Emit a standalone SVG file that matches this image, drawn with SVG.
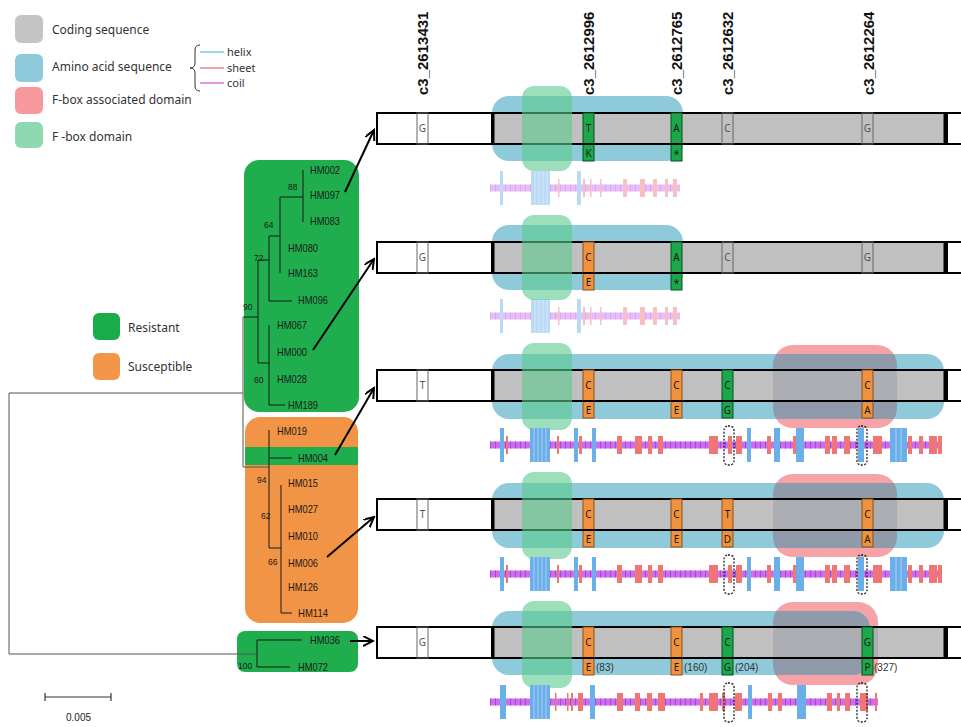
<svg xmlns="http://www.w3.org/2000/svg" xmlns:xlink="http://www.w3.org/1999/xlink" width="961" height="727" viewBox="0 0 961 727">
<style>
.lg{font-family:"Noto Sans","Liberation Sans",sans-serif;font-size:12px;fill:#333}
.sm{font-family:"Noto Sans","Liberation Sans",sans-serif;font-size:11px;fill:#333}
.hd{font-family:"Liberation Sans",Arial,sans-serif;font-size:15px;font-weight:bold;fill:#111}
.tl{font-family:"Liberation Sans",Arial,sans-serif;font-size:11px;fill:#1a1a1a}
.bs{font-family:"Liberation Sans",Arial,sans-serif;font-size:8.5px;fill:#1a1a1a}
.tr{stroke:#1a1a1a;stroke-width:1;fill:none}
.wb{fill:#fff;stroke:#000;stroke-width:2}
.gb{fill:#c0c0c0;stroke:#000;stroke-width:2}
.amino{fill:#8fcadb}
.fba{fill:#f5a3a6}
.ov{fill:#8f9bab}
.fbox{fill:#5cc98c;opacity:0.6}
.sn{fill:none;stroke:#666;stroke-width:1}
.snt{font-family:"Noto Sans","Liberation Sans",sans-serif;font-size:10px;fill:#555;text-anchor:middle}
.rg{fill:#1aa84a;stroke:#0b4d20;stroke-width:1}
.so{fill:#f0913d;stroke:#8a4f1c;stroke-width:1}
.lt{font-family:"Noto Sans","Liberation Sans",sans-serif;font-size:10px;fill:#1a1a1a;text-anchor:middle}
.pn{font-family:"Liberation Sans",Arial,sans-serif;font-size:10px;fill:#333}
.coil{stroke:#cc6cf2;stroke-width:7}
.coild{stroke:#a44bd0;stroke-width:7;stroke-dasharray:1 4}
.sh{fill:#f07575}
.hx{fill:#6aaeea}
.dt{fill:none;stroke:#222;stroke-width:1.3;stroke-dasharray:2 1.5}
.ar{stroke:#000;stroke-width:2;fill:none}
</style>
<defs>
<marker id="ah" markerUnits="userSpaceOnUse" markerWidth="12" markerHeight="12" refX="10" refY="5" orient="auto">
<path d="M0,0 L10,5 L0,10" fill="none" stroke="#000" stroke-width="2"/>
</marker>
<clipPath id="cr3"><rect x="773" y="345" width="124" height="83" rx="20"/></clipPath>
<clipPath id="cr4"><rect x="773" y="474" width="124" height="83" rx="20"/></clipPath>
<clipPath id="cr5"><rect x="773" y="602" width="105" height="83" rx="20"/></clipPath>
<g id="strip12">
<line class="coil" x1="490" y1="0" x2="680" y2="0"/>
<line class="coild" x1="490" y1="0" x2="680" y2="0"/>
<rect class="hx" x="500" y="-17" width="3" height="34"/>
<rect class="hx" x="531" y="-17" width="19" height="34"/>
<rect class="hx" x="577" y="-17" width="4" height="34"/>
<rect class="sh" x="558" y="-9" width="1.5" height="18"/>
<rect class="sh" x="583" y="-9" width="2" height="18"/>
<rect class="sh" x="590" y="-9" width="1.5" height="18"/>
<rect class="sh" x="600" y="-9" width="1.5" height="18"/>
<rect class="sh" x="623" y="-9" width="4" height="18"/>
<rect class="sh" x="640" y="-9" width="5" height="18"/>
<rect class="sh" x="653" y="-9" width="4" height="18"/>
<rect class="sh" x="665" y="-9" width="3" height="18"/>
<rect class="sh" x="673" y="-9" width="4" height="18"/>
<g stroke="#fff" stroke-width="0.7" opacity="0.6"><line x1="535" y1="-17" x2="535" y2="17"/><line x1="539" y1="-17" x2="539" y2="17"/><line x1="543" y1="-17" x2="543" y2="17"/><line x1="547" y1="-17" x2="547" y2="17"/></g>
</g>
<g id="strip34">
<line class="coil" x1="490" y1="0" x2="942" y2="0"/>
<line class="coild" x1="490" y1="0" x2="942" y2="0"/>
<rect class="hx" x="500" y="-17" width="4" height="34"/>
<rect class="hx" x="530" y="-17" width="20" height="34"/>
<rect class="hx" x="574" y="-17" width="4" height="34"/>
<rect class="hx" x="592" y="-17" width="4" height="34"/>
<rect class="hx" x="747" y="-17" width="4" height="34"/>
<rect class="hx" x="774" y="-17" width="6" height="34"/>
<rect class="hx" x="796" y="-17" width="8" height="34"/>
<rect class="hx" x="858" y="-17" width="6" height="34"/>
<rect class="hx" x="890" y="-17" width="17" height="34"/>
<rect class="sh" x="506" y="-9" width="2" height="18"/>
<rect class="sh" x="557" y="-9" width="2" height="18"/>
<rect class="sh" x="579" y="-9" width="3" height="18"/>
<rect class="sh" x="617" y="-9" width="5" height="18"/>
<rect class="sh" x="635" y="-9" width="7" height="18"/>
<rect class="sh" x="648" y="-9" width="4" height="18"/>
<rect class="sh" x="658" y="-9" width="5" height="18"/>
<rect class="sh" x="709" y="-9" width="9" height="18"/>
<rect class="sh" x="728" y="-9" width="4" height="18"/>
<rect class="sh" x="736" y="-9" width="6" height="18"/>
<rect class="sh" x="767" y="-9" width="4" height="18"/>
<rect class="sh" x="793" y="-9" width="3" height="18"/>
<rect class="sh" x="825" y="-9" width="5" height="18"/>
<rect class="sh" x="832" y="-9" width="5" height="18"/>
<rect class="sh" x="844" y="-9" width="6" height="18"/>
<rect class="sh" x="873" y="-9" width="9" height="18"/>
<rect class="sh" x="908" y="-9" width="4" height="18"/>
<rect class="sh" x="919" y="-9" width="4" height="18"/>
<rect class="sh" x="929" y="-9" width="8" height="18"/>
<rect class="sh" x="938" y="-9" width="4" height="18"/>
<g stroke="#fff" stroke-width="0.7" opacity="0.6"><line x1="534" y1="-17" x2="534" y2="17"/><line x1="538" y1="-17" x2="538" y2="17"/><line x1="542" y1="-17" x2="542" y2="17"/><line x1="546" y1="-17" x2="546" y2="17"/><line x1="896" y1="-17" x2="896" y2="17"/><line x1="901" y1="-17" x2="901" y2="17"/></g>
<rect class="dt" x="724" y="-19" width="10" height="39" rx="4"/>
<rect class="dt" x="857" y="-19" width="10" height="39" rx="4"/>
</g>
</defs>
<rect width="961" height="727" fill="#fff"/>

<g id="legend">
<rect x="15" y="15" width="28" height="28" rx="6" fill="#c4c4c4"/>
<rect x="15" y="54" width="28" height="28" rx="6" fill="#8fcadb"/>
<rect x="15" y="87" width="28" height="27" rx="6" fill="#f7999c"/>
<rect x="15" y="122" width="28" height="26" rx="6" fill="#8fd9b2"/>
<text class="lg" x="52" y="34">Coding sequence</text>
<text class="lg" x="52" y="71">Amino acid sequence</text>
<text class="lg" x="52" y="104">F-box associated domain</text>
<text class="lg" x="52" y="141">F -box domain</text>
<path d="M200,45 Q195,45 195,50 L195,63 Q195,68 190,68 Q195,68 195,73 L195,86 Q195,91 200,91" fill="none" stroke="#333" stroke-width="1"/>
<line x1="200" y1="52" x2="224" y2="52" stroke="#5bb8e0" stroke-width="1.2"/>
<line x1="200" y1="68" x2="224" y2="68" stroke="#e86060" stroke-width="1.2"/>
<line x1="200" y1="83" x2="224" y2="83" stroke="#d050d0" stroke-width="1.2"/>
<text class="sm" x="227" y="56">helix</text>
<text class="sm" x="227" y="72">sheet</text>
<text class="sm" x="227" y="87">coil</text>
</g>

<g id="legend-phenotype">
<rect x="93" y="313" width="27" height="27" rx="6" fill="#1aab4b"/>
<rect x="93" y="353" width="27" height="27" rx="6" fill="#f4964a"/>
<text class="lg" x="128" y="332">Resistant</text>
<text class="lg" x="128" y="371">Susceptible</text>
</g>

<g id="headers">
<text class="hd" transform="translate(428,95) rotate(-90)">c3_2613431</text>
<text class="hd" transform="translate(594,95) rotate(-90)">c3_2612996</text>
<text class="hd" transform="translate(682,95) rotate(-90)">c3_2612765</text>
<text class="hd" transform="translate(733,95) rotate(-90)">c3_2612632</text>
<text class="hd" transform="translate(874,95) rotate(-90)">c3_2612264</text>
</g>

<g id="tree">
<rect x="244" y="160" width="115" height="252" rx="15" fill="#20ad4e"/>
<rect x="245" y="417" width="113" height="206" rx="15" fill="#f29445"/>
<rect x="245" y="447" width="113" height="18" fill="#20ad4e"/>
<rect x="237" y="631" width="121" height="41" rx="8" fill="#20ad4e"/>
<g class="tr">
<path d="M303,170 V222 M280,197 H303"/>
<path d="M280,197 V273 M269,236 H280"/>
<path d="M269,236 V301 H292"/>
<path d="M258,260 H269 M258,260 V363 H269"/>
<path d="M269,325 V405 H285"/>
<path d="M243,317 H258"/>
<path d="M243,317 V467 H269" stroke="#555"/>
<path d="M269,430 V548 H281 M269,458 H292"/>
<path d="M281,485 V613 H292"/>
<path d="M9,393 H243 M9,393 V654 H257" stroke="#555"/>
<path d="M257,640 V667 M257,640 H302 M257,667 H290"/>
</g>
<text class="tl" x="310" y="174" textLength="30" lengthAdjust="spacingAndGlyphs">HM002</text>
<text class="tl" x="310" y="199" textLength="30" lengthAdjust="spacingAndGlyphs">HM097</text>
<text class="tl" x="310" y="225" textLength="30" lengthAdjust="spacingAndGlyphs">HM083</text>
<text class="tl" x="288" y="252" textLength="30" lengthAdjust="spacingAndGlyphs">HM080</text>
<text class="tl" x="288" y="277" textLength="30" lengthAdjust="spacingAndGlyphs">HM163</text>
<text class="tl" x="298" y="304" textLength="30" lengthAdjust="spacingAndGlyphs">HM096</text>
<text class="tl" x="277" y="329" textLength="30" lengthAdjust="spacingAndGlyphs">HM067</text>
<text class="tl" x="277" y="356" textLength="30" lengthAdjust="spacingAndGlyphs">HM000</text>
<text class="tl" x="277" y="383" textLength="30" lengthAdjust="spacingAndGlyphs">HM028</text>
<text class="tl" x="288" y="409" textLength="30" lengthAdjust="spacingAndGlyphs">HM189</text>
<text class="tl" x="277" y="435" textLength="30" lengthAdjust="spacingAndGlyphs">HM019</text>
<text class="tl" x="298" y="462" textLength="30" lengthAdjust="spacingAndGlyphs">HM004</text>
<text class="tl" x="288" y="487" textLength="30" lengthAdjust="spacingAndGlyphs">HM015</text>
<text class="tl" x="288" y="513" textLength="30" lengthAdjust="spacingAndGlyphs">HM027</text>
<text class="tl" x="288" y="540" textLength="30" lengthAdjust="spacingAndGlyphs">HM010</text>
<text class="tl" x="288" y="567" textLength="30" lengthAdjust="spacingAndGlyphs">HM006</text>
<text class="tl" x="288" y="591" textLength="30" lengthAdjust="spacingAndGlyphs">HM126</text>
<text class="tl" x="298" y="617" textLength="30" lengthAdjust="spacingAndGlyphs">HM114</text>
<text class="tl" x="310" y="644" textLength="30" lengthAdjust="spacingAndGlyphs">HM036</text>
<text class="tl" x="298" y="671" textLength="30" lengthAdjust="spacingAndGlyphs">HM072</text>
<text class="bs" x="288" y="190">88</text>
<text class="bs" x="264" y="228">64</text>
<text class="bs" x="254" y="261">72</text>
<text class="bs" x="243" y="310">90</text>
<text class="bs" x="254" y="383">60</text>
<text class="bs" x="257" y="483">94</text>
<text class="bs" x="261" y="519">62</text>
<text class="bs" x="268" y="565">66</text>
<text class="bs" x="238" y="669">100</text>
</g>

<g id="scale">
<path d="M45,693 V701 M45,697 H111 M111,693 V701" stroke="#333" stroke-width="1.2" fill="none"/>
<text class="bs" x="66" y="721" style="font-size:10px">0.005</text>
</g>

<g id="connectors">
<line class="ar" x1="345" y1="192" x2="374" y2="130" marker-end="url(#ah)"/>
<line class="ar" x1="313" y1="350" x2="374" y2="259" marker-end="url(#ah)"/>
<line class="ar" x1="335" y1="455" x2="374" y2="388" marker-end="url(#ah)"/>
<line class="ar" x1="327" y1="557" x2="374" y2="517" marker-end="url(#ah)"/>
<line class="ar" x1="350" y1="641" x2="373" y2="641" marker-end="url(#ah)"/>
</g>

<g id="row1">
<rect class="amino" x="492" y="96" width="191" height="65" rx="17"/>
<rect class="wb" x="377" y="113" width="115" height="31"/>
<rect class="gb" x="493" y="113" width="452" height="31"/>
<path d="M493,112 V145 M945,112 V145" stroke="#000" stroke-width="3"/>
<rect class="wb" x="947" y="113" width="20" height="31"/>
<rect class="sn" x="417" y="113" width="11" height="31"/><text class="snt" x="422.5" y="132">G</text>
<rect class="sn" x="722" y="113" width="11" height="31"/><text class="snt" x="727.5" y="132">C</text>
<rect class="sn" x="862" y="113" width="11" height="31"/><text class="snt" x="867.5" y="132">G</text>
<rect class="fbox" x="522" y="86" width="50" height="85" rx="12"/>
<rect class="rg" x="583" y="113" width="11" height="48"/><line x1="583" y1="144" x2="594" y2="144" stroke="#000" stroke-width="2"/>
<text class="lt" x="588.5" y="132">T</text><text class="lt" x="588.5" y="157">K</text>
<rect class="rg" x="671" y="113" width="11" height="48"/><line x1="671" y1="144" x2="682" y2="144" stroke="#000" stroke-width="2"/>
<text class="lt" x="676.5" y="132">A</text><text class="lt" x="676.5" y="158">*</text>
<use xlink:href="#strip12" href="#strip12" transform="translate(0,188)" opacity="0.45"/>
</g>

<g id="row2">
<rect class="amino" x="492" y="225" width="191" height="65" rx="17"/>
<rect class="wb" x="377" y="242" width="115" height="31"/>
<rect class="gb" x="493" y="242" width="452" height="31"/>
<path d="M493,241 V274 M945,241 V274" stroke="#000" stroke-width="3"/>
<rect class="wb" x="947" y="242" width="20" height="31"/>
<rect class="sn" x="417" y="242" width="11" height="31" stroke="#333"/><text class="snt" x="422.5" y="261">G</text>
<rect class="sn" x="722" y="242" width="11" height="31"/><text class="snt" x="727.5" y="261">C</text>
<rect class="sn" x="862" y="242" width="11" height="31"/><text class="snt" x="867.5" y="261">G</text>
<rect class="fbox" x="522" y="215" width="50" height="85" rx="12"/>
<rect class="so" x="583" y="242" width="11" height="48"/><line x1="583" y1="273" x2="594" y2="273" stroke="#000" stroke-width="2"/>
<text class="lt" x="588.5" y="261">C</text><text class="lt" x="588.5" y="286">E</text>
<rect class="rg" x="671" y="242" width="11" height="48"/><line x1="671" y1="273" x2="682" y2="273" stroke="#000" stroke-width="2"/>
<text class="lt" x="676.5" y="261">A</text><text class="lt" x="676.5" y="287">*</text>
<use xlink:href="#strip12" href="#strip12" transform="translate(0,316)" opacity="0.45"/>
</g>

<g id="row3">
<rect class="fba" x="773" y="345" width="124" height="83" rx="20"/>
<rect class="amino" x="492" y="354" width="452" height="65" rx="17"/>
<rect class="ov" x="492" y="354" width="452" height="65" rx="17" clip-path="url(#cr3)"/>
<rect class="wb" x="377" y="370" width="115" height="31"/>
<rect class="gb" x="493" y="370" width="452" height="31"/>
<rect x="773" y="371" width="124" height="29" fill="#6e7890" opacity="0.25"/>
<path d="M493,369 V402 M945,369 V402" stroke="#000" stroke-width="3"/>
<rect class="wb" x="947" y="370" width="20" height="31"/>
<rect class="sn" x="417" y="370" width="11" height="31"/><text class="snt" x="422.5" y="389">T</text>
<rect class="fbox" x="522" y="343" width="50" height="87" rx="12"/>
<rect class="so" x="583" y="370" width="11" height="48"/><line x1="583" y1="401" x2="594" y2="401" stroke="#000" stroke-width="2"/>
<text class="lt" x="588.5" y="389">C</text><text class="lt" x="588.5" y="414">E</text>
<rect class="so" x="671" y="370" width="11" height="48"/><line x1="671" y1="401" x2="682" y2="401" stroke="#000" stroke-width="2"/>
<text class="lt" x="676.5" y="389">C</text><text class="lt" x="676.5" y="414">E</text>
<rect class="rg" x="722" y="370" width="11" height="48"/><line x1="722" y1="401" x2="733" y2="401" stroke="#000" stroke-width="2"/>
<text class="lt" x="727.5" y="389">C</text><text class="lt" x="727.5" y="414">G</text>
<rect class="so" x="862" y="370" width="11" height="48"/><line x1="862" y1="401" x2="873" y2="401" stroke="#000" stroke-width="2"/>
<text class="lt" x="867.5" y="389">C</text><text class="lt" x="867.5" y="414">A</text>
<use xlink:href="#strip34" href="#strip34" transform="translate(0,445)"/>
</g>

<g id="row4">
<rect class="fba" x="773" y="474" width="124" height="83" rx="20"/>
<rect class="amino" x="492" y="483" width="452" height="65" rx="17"/>
<rect class="ov" x="492" y="483" width="452" height="65" rx="17" clip-path="url(#cr4)"/>
<rect class="wb" x="377" y="499" width="115" height="31"/>
<rect class="gb" x="493" y="499" width="452" height="31"/>
<rect x="773" y="500" width="124" height="29" fill="#6e7890" opacity="0.25"/>
<path d="M493,498 V531 M945,498 V531" stroke="#000" stroke-width="3"/>
<rect class="wb" x="947" y="499" width="20" height="31"/>
<rect class="sn" x="417" y="499" width="11" height="31"/><text class="snt" x="422.5" y="518">T</text>
<rect class="fbox" x="522" y="472" width="50" height="87" rx="12"/>
<rect class="so" x="583" y="499" width="11" height="48"/><line x1="583" y1="530" x2="594" y2="530" stroke="#000" stroke-width="2"/>
<text class="lt" x="588.5" y="518">C</text><text class="lt" x="588.5" y="543">E</text>
<rect class="so" x="671" y="499" width="11" height="48"/><line x1="671" y1="530" x2="682" y2="530" stroke="#000" stroke-width="2"/>
<text class="lt" x="676.5" y="518">C</text><text class="lt" x="676.5" y="543">E</text>
<rect class="so" x="722" y="499" width="11" height="48"/><line x1="722" y1="530" x2="733" y2="530" stroke="#000" stroke-width="2"/>
<text class="lt" x="727.5" y="518">T</text><text class="lt" x="727.5" y="543">D</text>
<rect class="so" x="862" y="499" width="11" height="48"/><line x1="862" y1="530" x2="873" y2="530" stroke="#000" stroke-width="2"/>
<text class="lt" x="867.5" y="518">C</text><text class="lt" x="867.5" y="543">A</text>
<use xlink:href="#strip34" href="#strip34" transform="translate(0,574)"/>
</g>

<g id="row5">
<rect class="fba" x="773" y="602" width="105" height="83" rx="20"/>
<rect class="amino" x="492" y="611" width="378" height="64" rx="17"/>
<rect class="ov" x="492" y="611" width="378" height="64" rx="17" clip-path="url(#cr5)"/>
<rect class="wb" x="377" y="627" width="115" height="31"/>
<rect class="gb" x="493" y="627" width="452" height="31"/>
<rect x="773" y="628" width="105" height="29" fill="#6e7890" opacity="0.25"/>
<path d="M493,626 V659 M945,626 V659" stroke="#000" stroke-width="3"/>
<rect class="wb" x="947" y="627" width="20" height="31"/>
<rect class="sn" x="417" y="627" width="11" height="31"/><text class="snt" x="422.5" y="646">G</text>
<rect class="fbox" x="522" y="601" width="50" height="87" rx="12"/>
<rect class="so" x="583" y="627" width="11" height="48"/><line x1="583" y1="658" x2="594" y2="658" stroke="#000" stroke-width="2"/>
<text class="lt" x="588.5" y="646">C</text><text class="lt" x="588.5" y="671">E</text><text class="pn" x="596" y="671">(83)</text>
<rect class="so" x="671" y="627" width="11" height="48"/><line x1="671" y1="658" x2="682" y2="658" stroke="#000" stroke-width="2"/>
<text class="lt" x="676.5" y="646">C</text><text class="lt" x="676.5" y="671">E</text><text class="pn" x="684" y="671">(160)</text>
<rect class="rg" x="722" y="627" width="11" height="48"/><line x1="722" y1="658" x2="733" y2="658" stroke="#000" stroke-width="2"/>
<text class="lt" x="727.5" y="646">C</text><text class="lt" x="727.5" y="671">G</text><text class="pn" x="735" y="671">(204)</text>
<rect class="rg" x="862" y="627" width="11" height="48"/><line x1="862" y1="658" x2="873" y2="658" stroke="#000" stroke-width="2"/>
<text class="lt" x="867.5" y="646">G</text><text class="lt" x="867.5" y="671">P</text><text class="pn" x="874" y="671">(327)</text>
<g transform="translate(0,702)">
<line class="coil" x1="490" y1="0" x2="878" y2="0"/>
<line class="coild" x1="490" y1="0" x2="878" y2="0"/>
<rect class="hx" x="500" y="-17" width="6" height="34"/>
<rect class="hx" x="530" y="-17" width="20" height="34"/>
<rect class="hx" x="590" y="-17" width="5" height="34"/>
<rect class="hx" x="748" y="-17" width="4" height="34"/>
<rect class="hx" x="797" y="-17" width="9" height="34"/>
<rect class="sh" x="555" y="-9" width="1.5" height="18"/>
<rect class="sh" x="567" y="-9" width="1.5" height="18"/>
<rect class="sh" x="571" y="-9" width="2" height="18"/>
<rect class="sh" x="578" y="-9" width="5" height="18"/>
<rect class="sh" x="617" y="-9" width="6" height="18"/>
<rect class="sh" x="635" y="-9" width="5" height="18"/>
<rect class="sh" x="647" y="-9" width="5" height="18"/>
<rect class="sh" x="658" y="-9" width="7" height="18"/>
<rect class="sh" x="700" y="-9" width="3" height="18"/>
<rect class="sh" x="709" y="-9" width="9" height="18"/>
<rect class="sh" x="722" y="-9" width="3" height="18"/>
<rect class="sh" x="735" y="-9" width="7" height="18"/>
<rect class="sh" x="768" y="-9" width="4" height="18"/>
<rect class="sh" x="778" y="-9" width="4" height="18"/>
<rect class="sh" x="827" y="-9" width="5" height="18"/>
<rect class="sh" x="837" y="-9" width="3" height="18"/>
<rect class="sh" x="845" y="-9" width="5" height="18"/>
<rect class="sh" x="860" y="-9" width="8" height="18"/>
<rect class="sh" x="875" y="-9" width="2" height="18"/>
<g stroke="#fff" stroke-width="0.7" opacity="0.6"><line x1="534" y1="-17" x2="534" y2="17"/><line x1="538" y1="-17" x2="538" y2="17"/><line x1="542" y1="-17" x2="542" y2="17"/><line x1="546" y1="-17" x2="546" y2="17"/></g>
<rect class="dt" x="724" y="-19" width="10" height="39" rx="4"/>
<rect class="dt" x="857" y="-19" width="10" height="39" rx="4"/>
</g>
</g>
</svg>
